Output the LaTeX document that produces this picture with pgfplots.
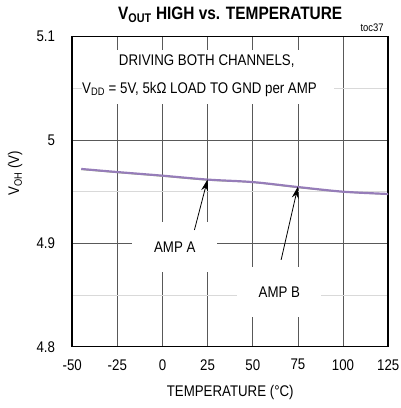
\documentclass[border=0pt]{standalone}
\usepackage{fontspec}
\setmainfont{Liberation Sans}[FakeStretch=0.86]
\usepackage{pgfplots}
\pgfplotsset{compat=1.18}
\usetikzlibrary{arrows.meta}
\definecolor{curvepurple}{RGB}{150,125,185}
\definecolor{curvegreen}{RGB}{150,190,90}
\newcommand{\lbl}{\fontsize{15.5}{18}\selectfont}
\begin{document}
\begin{tikzpicture}
\begin{axis}[
 scale only axis, width=316bp, height=310bp,
 xmin=-50, xmax=125, ymin=4.8, ymax=5.1,
 xtick={-50,-25,...,125}, ytick={4.8,4.9,5,5.1},
 minor ytick={4.85,4.95,5.05},
 grid=both,
 major grid style={gray!70!black, line width=0.8pt},
 minor grid style={gray!30, line width=0.8pt},
 axis line style={line width=1.6pt},
 tick style={draw=none},
 /pgf/number format/assume math mode=true,
 ticklabel style={font=\lbl, inner sep=0pt},
 xticklabel style={anchor=center, yshift=-18bp},
 yticklabel style={anchor=east, xshift=-17bp, /pgf/number format/fixed},
 clip=false,
]
\addplot[curvegreen, line width=1pt, smooth] coordinates {
(-45,4.9715) (-25,4.9685) (0,4.9650) (25,4.9612) (50,4.9590) (75,4.9540) (100,4.9498) (125,4.9475)};
\addplot[curvepurple, line width=2.2pt, smooth] coordinates {
(-45,4.9720) (-25,4.9690) (0,4.9655) (25,4.9617) (50,4.9593) (75,4.9545) (100,4.9500) (125,4.9478)};

\fill[white] (axis cs:-44.5,5.0875) rectangle (axis cs:94.8,5.0350);
\node[font=\lbl] at (axis cs:24.5,5.076) {DRIVING BOTH CHANNELS,};
\node[font=\lbl] at (axis cs:20.5,5.049) {V\textsubscript{DD} = 5V, 5kΩ LOAD TO GND per AMP};

\node[fill=white, inner sep=0pt, minimum width=85bp, minimum height=50bp, font=\lbl] at (axis cs:6.8,4.8967) {AMP A};
\node[fill=white, inner sep=0pt, minimum width=84bp, minimum height=50bp, font=\lbl] at (axis cs:64.7,4.853) {AMP B};

\draw[line width=0.8pt, -{Stealth[length=12bp,width=7bp]}] (axis cs:17.7,4.913) -- (axis cs:25,4.962);
\draw[line width=0.8pt, -{Stealth[length=12bp,width=7bp]}] (axis cs:65.7,4.884) -- (axis cs:75,4.955);

\node[font=\bfseries\fontsize{18}{21}\selectfont] at ([yshift=22bp]rel axis cs:0.5,1) {V\textsubscript{OUT} HIGH vs. TEMPERATURE};
\node[font=\fontsize{11}{13}\selectfont, anchor=east] at ([yshift=9bp,xshift=-1bp]rel axis cs:1,1) {toc37};
\node[font=\lbl] at ([yshift=-46bp]rel axis cs:0.5,0) {TEMPERATURE (°C)};
\node[font=\lbl, rotate=90] at ([xshift=-57bp]rel axis cs:0,0.56) {V\textsubscript{OH} (V)};
\end{axis}
\pgfresetboundingbox
\useasboundingbox (-72.2bp,-61.3bp) rectangle (328.8bp,346.7bp);
\end{tikzpicture}
\end{document}
